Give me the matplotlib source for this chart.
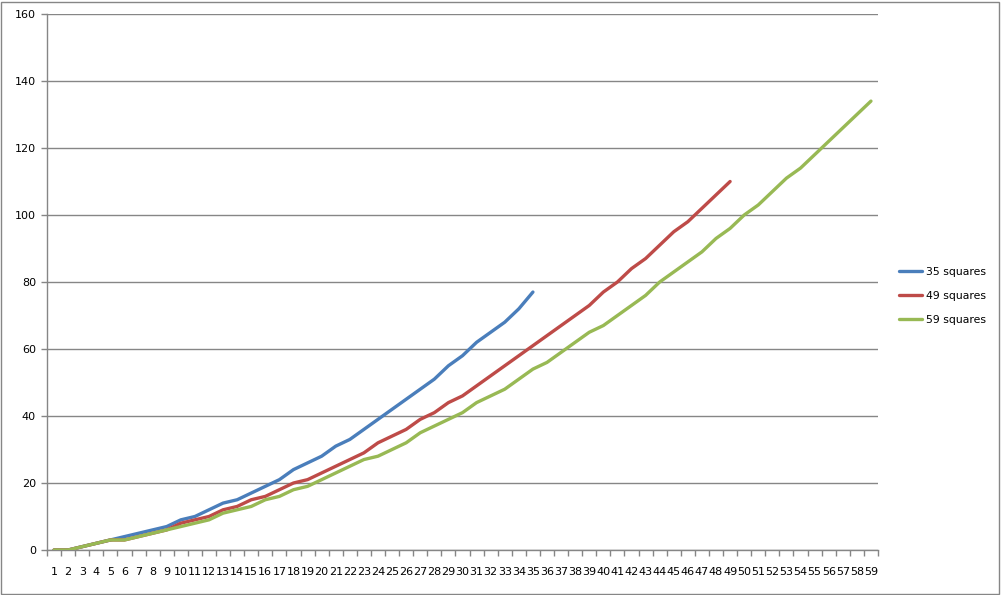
import matplotlib
matplotlib.use("Agg")
import matplotlib.pyplot as plt
from matplotlib.patches import Rectangle
from matplotlib.ticker import FixedLocator

categories = [str(i) for i in range(1, 60)]

sq35 = [0, 0, 1, 2, 3, 4, 5, 6, 7, 9, 10, 12, 14, 15, 17, 19, 21, 24, 26, 28,
        31, 33, 36, 39, 42, 45, 48, 51, 55, 58, 62, 65, 68, 72, 77]
sq49 = [0, 0, 1, 2, 3, 3, 4, 5, 6, 8, 9, 10, 12, 13, 15, 16, 18, 20, 21, 23,
        25, 27, 29, 32, 34, 36, 39, 41, 44, 46, 49, 52, 55, 58, 61, 64, 67, 70,
        73, 77, 80, 84, 87, 91, 95, 98, 102, 106, 110]
sq59 = [0, 0, 1, 2, 3, 3, 4, 5, 6, 7, 8, 9, 11, 12, 13, 15, 16, 18, 19, 21,
        23, 25, 27, 28, 30, 32, 35, 37, 39, 41, 44, 46, 48, 51, 54, 56, 59, 62,
        65, 67, 70, 73, 76, 80, 83, 86, 89, 93, 96, 100, 103, 107, 111, 114,
        118, 122, 126, 130, 134]

series_names = ["35 squares", "49 squares", "59 squares"]
series_vals = [sq35, sq49, sq59]
colors = ["#4A7EBB", "#BE4B48", "#98B954"]

yticks = [0, 20, 40, 60, 80, 100, 120, 140, 160]

W, H = 1001, 595
fig = plt.figure(figsize=(W / 100, H / 100), dpi=100)
plt.rcParams['font.family'] = ['DejaVu Sans']

left, right, top, bottom = 47, 878, 14, 550
ax = fig.add_axes([left / W, 1 - bottom / H, (right - left) / W, (bottom - top) / H])

grid_color = "#868686"
for name, vals, c in zip(series_names, series_vals, colors):
    xs = list(range(1, len(vals) + 1))
    ax.plot(xs, vals, color=c, lw=2.4, label=name, solid_capstyle='round',
            solid_joinstyle='round', zorder=3)

n = len(categories)
ax.set_xlim(0.5, n + 0.5)
ax.set_ylim(yticks[0], yticks[-1])
ax.set_yticks(yticks)
ax.set_yticklabels([str(v) for v in yticks])
ax.yaxis.grid(True, color=grid_color, lw=1)
ax.set_axisbelow(True)

ax.set_xticks(range(1, n + 1))
ax.set_xticklabels(categories)
ax.xaxis.set_minor_locator(FixedLocator([i + 0.5 for i in range(0, n + 1)]))
ax.tick_params(axis='x', which='major', length=0, pad=12, labelsize=8,
               colors='black')
ax.tick_params(axis='x', which='minor', length=4, width=1, color=grid_color,
               direction='out')
ax.tick_params(axis='y', which='major', length=4, width=1, color=grid_color,
               pad=4, labelsize=8, labelcolor='black')

for s in ['top', 'right']:
    ax.spines[s].set_visible(False)
for s in ['left', 'bottom']:
    ax.spines[s].set_color(grid_color)
    ax.spines[s].set_linewidth(1)

fig.legend(loc='center left', bbox_to_anchor=(889 / W, 1 - 296 / H),
           frameon=False, fontsize=7.8, handlelength=2.1, handletextpad=0.4,
           labelspacing=1.3)

fig.patches.append(Rectangle((1 / W, 1 / H), (W - 3) / W, (H - 3) / H,
                             transform=fig.transFigure, fill=False,
                             edgecolor=grid_color, lw=1))

fig.savefig("out.png", dpi=100)
